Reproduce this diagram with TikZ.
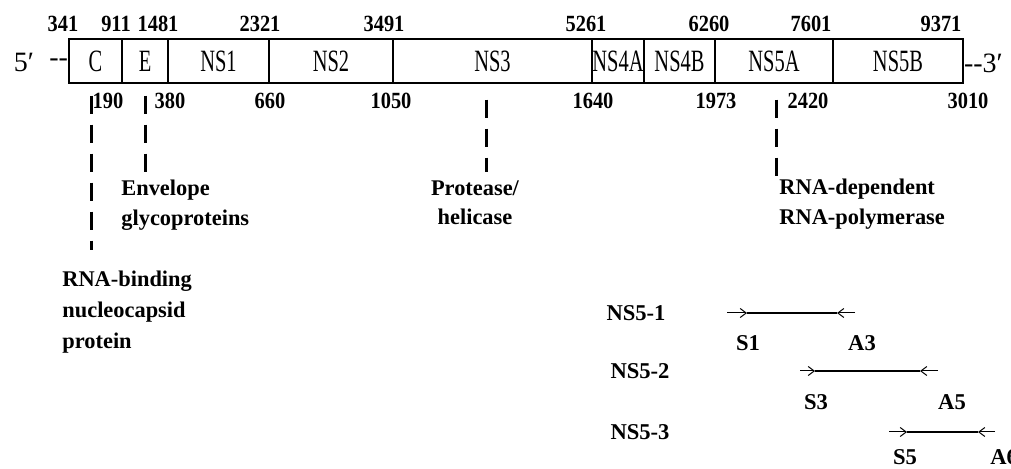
\documentclass[tikz,border=0pt]{standalone}
\usepackage{fontspec}
\setmainfont{Liberation Serif}
\newfontfamily\condf[FakeStretch=0.66]{Liberation Serif}
\newfontfamily\numf[FakeStretch=0.88]{Liberation Serif}
\usetikzlibrary{arrows.meta}
\begin{document}
\begin{tikzpicture}[x=0.5pt,y=-0.5pt,
  seg/.style={draw, line width=0.6pt, minimum height=22pt, inner sep=0pt,
    font=\condf\fontsize{15.5}{16}\selectfont},
  num/.style={inner sep=0pt, font=\numf\bfseries\fontsize{11.6}{12}\selectfont},
  endlbl/.style={inner sep=0pt, font=\fontsize{14}{14}\selectfont},
  lbl/.style={inner sep=0pt, anchor=north west, align=left,
    font=\bfseries\fontsize{11.2}{14.7}\selectfont},
  plbl/.style={inner sep=0pt, font=\bfseries\fontsize{11.3}{13}\selectfont},
  conn/.style={line width=1.5pt, dash pattern=on 9pt off 5.5pt},
  pthin/.style={line width=0.5pt, -{Straight Barb[length=3pt,width=4.5pt]}},
  pthick/.style={line width=1.1pt}
]
\useasboundingbox (0,0) rectangle (1011,469);
\fill[white] (0,0) rectangle (1011,469);

% genome box segments
\node[seg,minimum width=26.5pt] (C) at (95.5,61) {C};
\node[seg,minimum width=23pt] (E) at (145,61) {E};
\node[seg,minimum width=50.5pt] (NS1) at (218.5,61) {NS1};
\node[seg,minimum width=62pt] (NS2) at (331,61) {NS2};
\node[seg,minimum width=99.5pt] (NS3) at (492.5,61) {NS3};
\node[seg,minimum width=26pt] (NS4A) at (618,61) {NS4A};
\node[seg,minimum width=35.5pt] (NS4B) at (679.5,61) {NS4B};
\node[seg,minimum width=59pt] (NS5A) at (774,61) {NS5A};
\node[seg,minimum width=65pt] (NS5B) at (898,61) {NS5B};

% ends
\node[endlbl] (five) at (24,62) {5′};
\node[endlbl, anchor=east] (ldash) at ([yshift=-1pt]C.west) {-{}-};
\node[endlbl, anchor=west] (three) at ([yshift=-1pt]NS5B.east) {-{}-3′};

% top numbers
\node[num] (t341) at (63,24) {341};
\node[num] (t911) at (116,24) {911};
\node[num] (t1481) at (158,24) {1481};
\node[num] (t2321) at (260,24) {2321};
\node[num] (t3491) at (384,24) {3491};
\node[num] (t5261) at (586,24) {5261};
\node[num] (t6260) at (709,24) {6260};
\node[num] (t7601) at (811,24) {7601};
\node[num] (t9371) at (941,24) {9371};

% bottom numbers
\node[num] (b190) at (108,101) {190};
\node[num] (b380) at (170,101) {380};
\node[num] (b660) at (270,101) {660};
\node[num] (b1050) at (391,101) {1050};
\node[num] (b1640) at (593,101) {1640};
\node[num] (b1973) at (716,101) {1973};
\node[num] (b2420) at (808,101) {2420};
\node[num] (b3010) at (968,101) {3010};

% function labels
\node[lbl] (env) at (121,180) {Envelope\\glycoproteins};
\node[lbl, font=\bfseries\fontsize{11.2}{15.5}\selectfont] (rnab) at (62,271) {RNA-binding\\nucleocapsid\\protein};
\node[lbl, anchor=north, align=center] (prot) at (475,180) {Protease/\\helicase};
\node[lbl] (rdrp) at (779,179) {RNA-dependent\\RNA-polymerase};

% dashed connectors
\coordinate (cCe) at (91,250);
\coordinate (cEe) at (145,172);
\coordinate (cPe) at (486,172);
\coordinate (cRe) at (776,176);
\draw[conn] ([xshift=-2.25pt,yshift=-6pt]C.south) -- (cCe);
\draw[conn] ([yshift=-6pt]E.south) -- (cEe);
\draw[conn] ([xshift=-3.25pt,yshift=-8pt]NS3.south) -- (cPe);
\draw[conn] ([xshift=1pt,yshift=-8pt]NS5A.south) -- (cRe);

% primers
\node[plbl] (n51) at (636,313) {NS5-1};
\node[plbl] (n52) at (640,371) {NS5-2};
\node[plbl] (n53) at (640,432) {NS5-3};

\coordinate (p1s) at (727,313); \coordinate (p1a) at (747,313);
\coordinate (p1b) at (837,313); \coordinate (p1e) at (855,313);
\coordinate (p2s) at (800,371); \coordinate (p2a) at (815,371);
\coordinate (p2b) at (920,371); \coordinate (p2e) at (938,371);
\coordinate (p3s) at (889,432); \coordinate (p3a) at (907,432);
\coordinate (p3b) at (978,432); \coordinate (p3e) at (995,432);

\draw[pthin] (p1s) -- (p1a);
\draw[pthin] (p1e) -- (p1b);
\draw[pthick] (p1a) -- (p1b);
\draw[pthin] (p2s) -- (p2a);
\draw[pthin] (p2e) -- (p2b);
\draw[pthick] (p2a) -- (p2b);
\draw[pthin] (p3s) -- (p3a);
\draw[pthin] (p3e) -- (p3b);
\draw[pthick] (p3a) -- (p3b);

\node[plbl] (s1) at (748,343) {S1};
\node[plbl] (a3) at (862,343) {A3};
\node[plbl] (s3) at (816,402) {S3};
\node[plbl] (a5) at (952,402) {A5};
\node[plbl] (s5) at (905,457) {S5};
\node[plbl, anchor=west] (a6) at (990,457) {A6};
\end{tikzpicture}
\end{document}
